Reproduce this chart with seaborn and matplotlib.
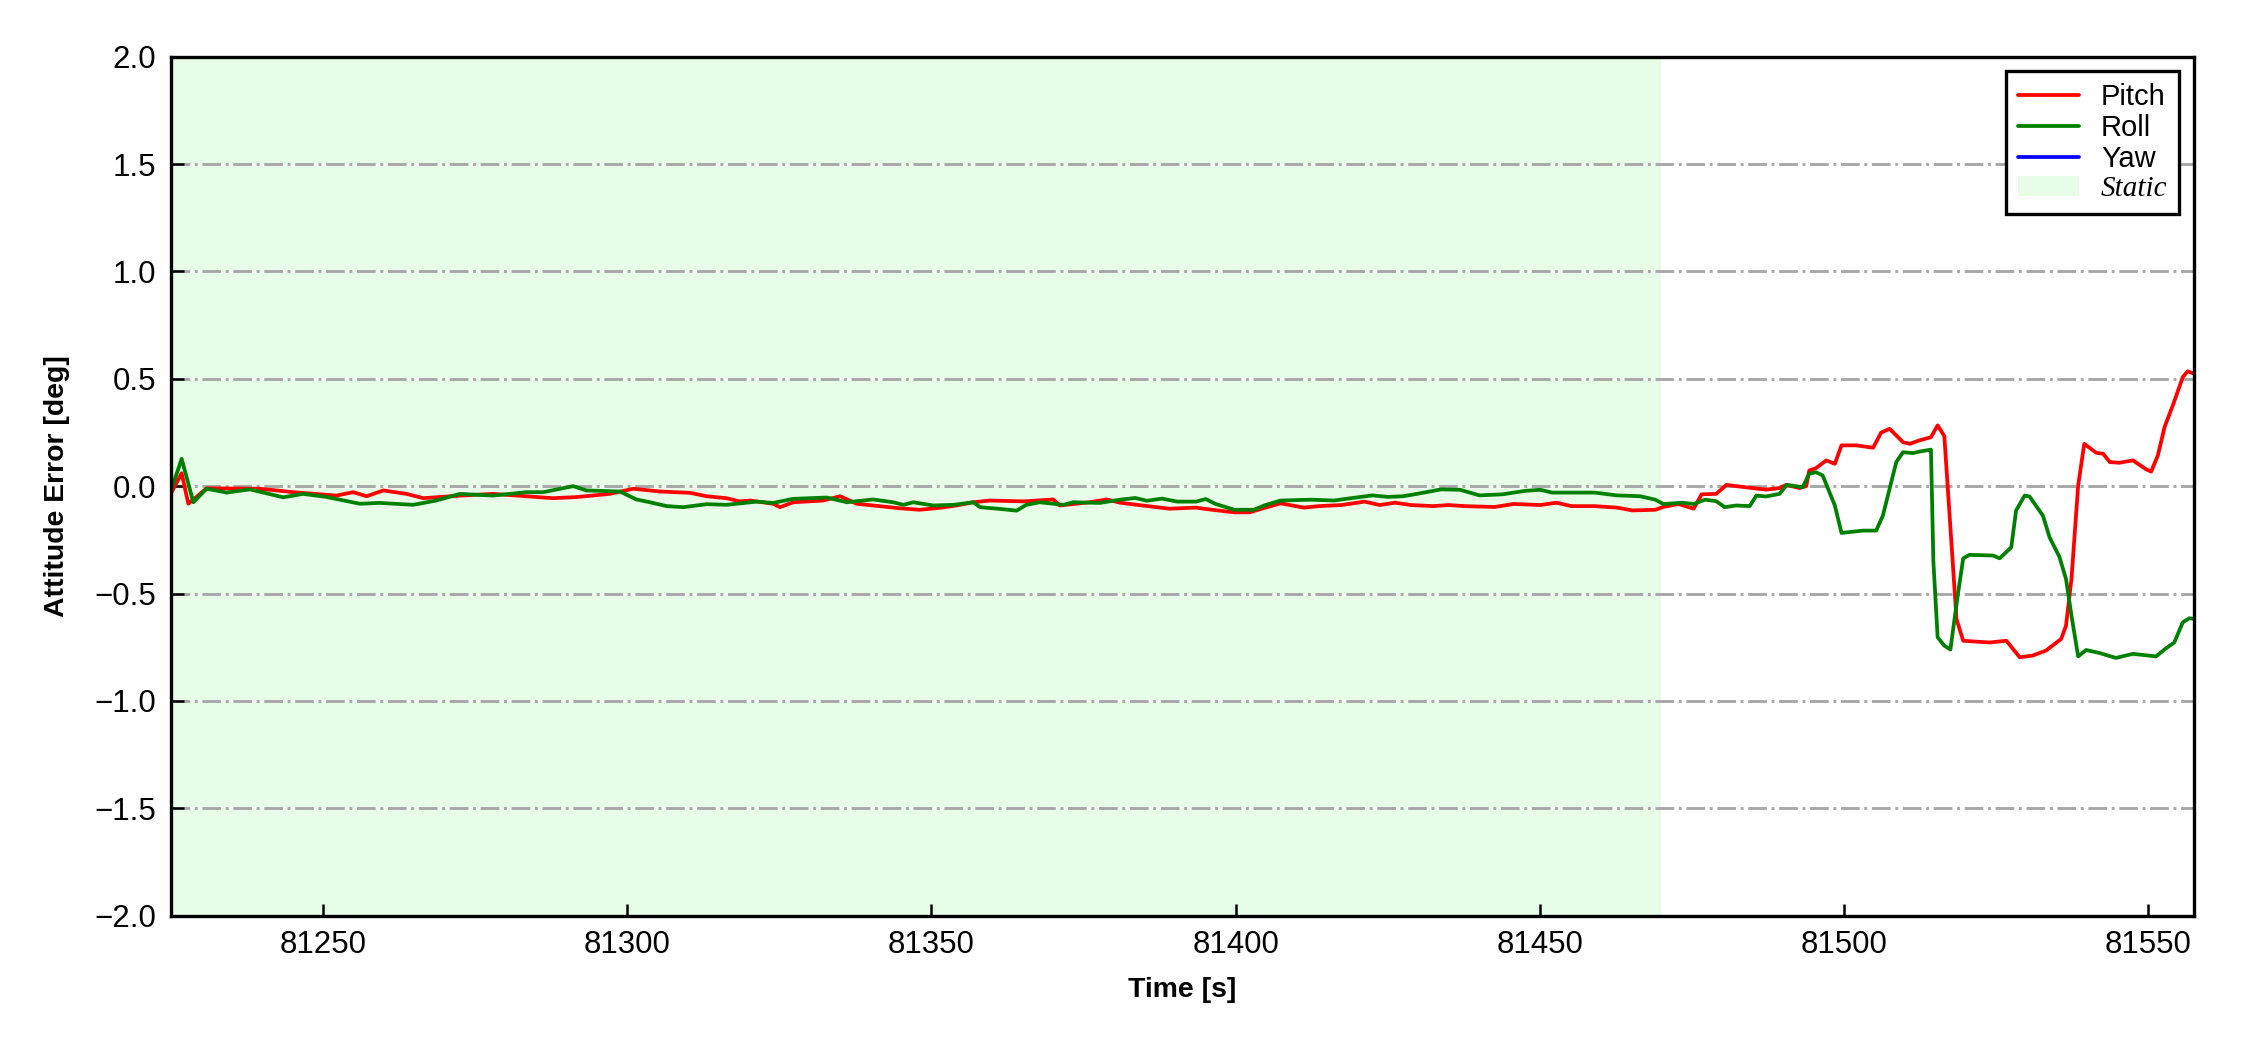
import pandas as pd
import seaborn as sns
import matplotlib.pyplot as plt

# Attitude error readings (deg)
pitch_time = [81225.1, 81226.75, 81227.85, 81230.86, 81239.6, 81245.1, 81252.2, 81254.95,
              81257.15, 81259.9, 81263.7, 81266.5, 81272.5, 81277.95, 81287.8, 81291.6,
              81297.1, 81301.0, 81305.4, 81310.3, 81313.05, 81316.3, 81318.5, 81320.2,
              81324.0, 81325.1, 81327.3, 81332.2, 81335.0, 81337.7, 81340.4, 81344.8,
              81348.1, 81351.4, 81354.1, 81356.9, 81359.6, 81365.1, 81370.0, 81371.1,
              81376.0, 81378.8, 81381.0, 81384.1, 81389.1, 81393.5, 81396.1, 81399.8,
              81402.3, 81404.9, 81407.4, 81411.2, 81413.7, 81417.4, 81421.2, 81423.7,
              81426.2, 81428.8, 81432.5, 81435.0, 81437.6, 81442.6, 81445.7, 81450.1,
              81452.7, 81455.2, 81459.0, 81462.7, 81465.2, 81469.0, 81470.3, 81472.8,
              81475.3, 81476.6, 81479.0, 81480.7, 81482.3, 81485.0, 81487.2, 81489.4,
              81490.5, 81492.7, 81493.8, 81494.3, 81495.4, 81497.1, 81498.5, 81499.6,
              81502.0, 81504.8, 81506.1, 81507.5, 81509.7, 81510.8, 81512.4, 81514.3,
              81515.4, 81516.5, 81518.5, 81519.6, 81521.7, 81524.0, 81526.7, 81528.9,
              81531.0, 81533.2, 81535.7, 81536.5, 81537.4, 81538.5, 81539.5, 81541.5,
              81542.6, 81543.7, 81545.3, 81547.5, 81549.7, 81550.5, 81551.6, 81552.7,
              81554.1, 81555.7, 81556.5, 81557.5]
pitch_err = [-0.028, 0.06, -0.082, -0.01, -0.012, -0.028, -0.044, -0.028,
             -0.047, -0.02, -0.036, -0.056, -0.044, -0.036, -0.056, -0.051,
             -0.036, -0.012, -0.025, -0.031, -0.047, -0.056, -0.071, -0.067,
             -0.082, -0.098, -0.075, -0.067, -0.047, -0.082, -0.09, -0.103,
             -0.11, -0.101, -0.09, -0.075, -0.067, -0.071, -0.062, -0.09,
             -0.075, -0.062, -0.077, -0.088, -0.105, -0.1, -0.11, -0.122,
             -0.122, -0.1, -0.08, -0.1, -0.093, -0.088, -0.072, -0.088,
             -0.077, -0.088, -0.093, -0.088, -0.093, -0.097, -0.083, -0.088,
             -0.077, -0.093, -0.093, -0.1, -0.113, -0.11, -0.097, -0.083,
             -0.105, -0.038, -0.036, 0.006, 0.0, -0.009, -0.016, -0.009,
             0.006, -0.009, 0.0, 0.073, 0.084, 0.12, 0.104, 0.19,
             0.19, 0.179, 0.249, 0.267, 0.205, 0.197, 0.213, 0.228,
             0.283, 0.233, -0.619, -0.72, -0.724, -0.728, -0.72, -0.797,
             -0.789, -0.766, -0.712, -0.65, -0.432, 0.003, 0.197, 0.155,
             0.151, 0.112, 0.109, 0.12, 0.078, 0.068, 0.143, 0.275,
             0.379, 0.508, 0.535, 0.524]

roll_time = [81225.1, 81226.75, 81228.67, 81230.86, 81234.14, 81237.98, 81243.45, 81246.7,
             81250.5, 81256.05, 81259.3, 81264.8, 81268.6, 81272.5, 81277.95, 81283.4,
             81286.2, 81291.1, 81293.3, 81298.8, 81301.5, 81303.7, 81306.5, 81309.2,
             81313.05, 81316.3, 81321.3, 81324.0, 81327.3, 81332.8, 81336.1, 81340.4,
             81343.7, 81345.4, 81347.0, 81350.3, 81353.6, 81356.9, 81358.0, 81361.2,
             81364.0, 81365.6, 81367.8, 81371.7, 81373.3, 81377.7, 81381.0, 81383.5,
             81385.4, 81387.9, 81390.4, 81393.5, 81395.1, 81396.7, 81399.8, 81403.0,
             81404.9, 81407.4, 81412.4, 81416.2, 81418.7, 81422.5, 81425.0, 81427.5,
             81430.0, 81433.8, 81436.9, 81440.1, 81443.9, 81447.6, 81450.1, 81452.0,
             81455.2, 81459.0, 81462.7, 81466.5, 81469.0, 81470.3, 81473.4, 81475.3,
             81477.2, 81479.0, 81480.4, 81482.3, 81484.5, 81485.6, 81487.2, 81489.4,
             81490.6, 81493.2, 81494.3, 81495.4, 81496.5, 81498.5, 81499.6, 81503.1,
             81505.3, 81506.4, 81508.6, 81509.7, 81511.3, 81512.4, 81514.3, 81514.7,
             81515.4, 81516.5, 81517.5, 81518.7, 81519.6, 81520.6, 81524.5, 81525.6,
             81527.5, 81528.3, 81529.7, 81530.5, 81532.7, 81533.8, 81535.4, 81536.5,
             81537.4, 81538.5, 81539.8, 81542.0, 81544.7, 81547.5, 81551.3, 81552.9,
             81554.3, 81555.7, 81556.8, 81557.5]
roll_err = [-0.012, 0.127, -0.075, -0.012, -0.03, -0.015, -0.052, -0.036,
            -0.05, -0.082, -0.078, -0.087, -0.067, -0.036, -0.044, -0.028,
            -0.028, 0.0, -0.02, -0.025, -0.062, -0.075, -0.093, -0.098,
            -0.084, -0.087, -0.072, -0.078, -0.059, -0.053, -0.075, -0.062,
            -0.075, -0.087, -0.075, -0.09, -0.087, -0.075, -0.098, -0.106,
            -0.114, -0.087, -0.075, -0.087, -0.075, -0.078, -0.063, -0.055,
            -0.068, -0.058, -0.072, -0.072, -0.06, -0.083, -0.11, -0.11,
            -0.088, -0.067, -0.063, -0.067, -0.057, -0.043, -0.05, -0.047,
            -0.035, -0.015, -0.017, -0.043, -0.038, -0.022, -0.017, -0.03,
            -0.03, -0.03, -0.043, -0.047, -0.063, -0.083, -0.077, -0.083,
            -0.063, -0.07, -0.098, -0.09, -0.093, -0.044, -0.048, -0.036,
            0.006, -0.005, 0.058, 0.065, 0.05, -0.09, -0.218, -0.207,
            -0.207, -0.137, 0.112, 0.158, 0.154, 0.161, 0.17, -0.35,
            -0.704, -0.743, -0.761, -0.509, -0.337, -0.32, -0.323, -0.336,
            -0.285, -0.113, -0.044, -0.048, -0.137, -0.238, -0.328, -0.432,
            -0.603, -0.793, -0.763, -0.777, -0.8, -0.781, -0.793, -0.756,
            -0.728, -0.634, -0.615, -0.618]

# yaw error stays outside the plotted range, only shows up in the legend
yaw_time = []
yaw_err = []

static_start, static_end = 81225, 81470

pitch_df = pd.DataFrame({'time': pitch_time, 'err': pitch_err})
roll_df = pd.DataFrame({'time': roll_time, 'err': roll_err})

sns.set_style('white')
plt.rcParams['font.family'] = ['Liberation Sans', 'DejaVu Sans']
plt.rcParams['text.color'] = 'black'
plt.rcParams['axes.labelcolor'] = 'black'
plt.rcParams['xtick.color'] = 'black'
plt.rcParams['ytick.color'] = 'black'

fig, ax = plt.subplots(figsize=(7.5, 3.5), dpi=300)
fig.subplots_adjust(left=0.076, right=0.975, top=0.946, bottom=0.128)

sns.lineplot(data=pitch_df, x='time', y='err', color='red', lw=0.9, label='Pitch', ax=ax)
sns.lineplot(data=roll_df, x='time', y='err', color='green', lw=0.9, label='Roll', ax=ax)
ax.plot(yaw_time, yaw_err, color='blue', lw=0.9, label='Yaw')
ax.axvspan(static_start, static_end, color='#e8fde8', lw=0, label='Static', zorder=0)

ax.set_xlim(81225, 81557.5)
ax.set_ylim(-2, 2)
ax.set_yticks([-2, -1.5, -1, -0.5, 0, 0.5, 1, 1.5, 2])
ax.set_xticks([81250, 81300, 81350, 81400, 81450, 81500, 81550])
ax.yaxis.grid(True, linestyle='-.', color='#a8a8a8', lw=0.7)
ax.set_axisbelow(True)

for s in ax.spines.values():
    s.set_color('black')
    s.set_linewidth(0.8)
ax.tick_params(bottom=True, left=True, direction='in', length=3, width=0.6,
               labelsize=7.5, colors='black', pad=3.5)

ax.set_xlabel('Time [s]', fontsize=6.8, fontweight='bold', labelpad=4)
ax.set_ylabel('Attitude Error [deg]', fontsize=6.8, fontweight='bold', labelpad=6)

leg = ax.legend(loc='upper right', fontsize=7, frameon=True, fancybox=False,
                edgecolor='black', framealpha=1, handlelength=2.1,
                labelspacing=0.1, borderpad=0.4, handletextpad=0.75,
                borderaxespad=0.5)
leg.get_frame().set_linewidth(0.8)
leg.get_texts()[3].set_fontfamily('Liberation Serif')
leg.get_texts()[3].set_fontstyle('italic')

plt.savefig('out.png', dpi=300)
